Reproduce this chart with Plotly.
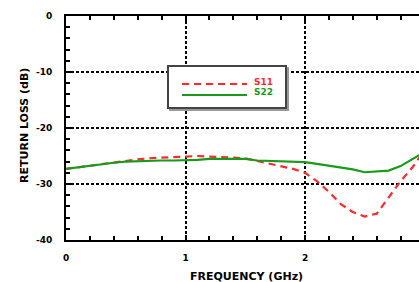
import plotly.graph_objects as go

freq = [0, 0.1, 0.2, 0.3, 0.4, 0.5, 0.6, 0.7, 0.8, 0.9, 1.0, 1.1, 1.2, 1.3, 1.4, 1.5,
        1.6, 1.7, 1.8, 1.9, 2.0, 2.1, 2.2, 2.3, 2.4, 2.5, 2.6, 2.7, 2.8, 2.9, 3.0]
s11 = [-27.3, -27.0, -26.8, -26.5, -26.2, -25.9, -25.6, -25.4, -25.3, -25.3, -25.1,
       -25.0, -25.1, -25.2, -25.3, -25.4, -25.9, -26.4, -26.8, -27.3, -28.0, -29.5,
       -31.4, -33.6, -35.0, -35.8, -35.3, -32.5, -29.5, -27.0, -24.0]
s22 = [-27.3, -27.0, -26.8, -26.5, -26.2, -26.0, -25.9, -25.8, -25.8, -25.8, -25.8,
       -25.7, -25.5, -25.5, -25.5, -25.5, -25.8, -25.9, -26.0, -26.1, -26.1, -26.4,
       -26.7, -27.0, -27.4, -27.9, -27.8, -27.6, -26.8, -25.5, -24.3]
series_names = ["S11", "S22"]
series_colors = ["#ff2a2a", "#1a9a1a"]
x_ticks = [0, 1, 2, 3]
x_ticktext = ["0", "1", "2", "3"]
y_ticks = [0, -10, -20, -30, -40]
y_ticktext = ["0", "-10", "-20", "-30", "-40"]
x_title = "FREQUENCY (GHz)"
y_title = "RETURN LOSS (dB)"

W, H = 419, 282
L, R, T, B = 66, 0, 16, 42
pw, ph = W - L - R, H - T - B

def px(x):
    return (x - L) / pw

def py(y):
    return (H - B - y) / ph

dash_s11 = "7px,5px"

fig = go.Figure()
fig.add_trace(go.Scatter(x=freq, y=s11, mode="lines", name=series_names[0],
                         line=dict(color=series_colors[0], width=2.2, dash=dash_s11)))
fig.add_trace(go.Scatter(x=freq, y=s22, mode="lines", name=series_names[1],
                         line=dict(color=series_colors[1], width=2.2)))

fam = "DejaVu Sans, Liberation Sans, Arial, sans-serif"
font = dict(family=fam, size=9, color="black", weight="bold")
tfont = dict(family=fam, size=11, color="black", weight="bold")

fig.update_layout(
    width=W, height=H,
    margin=dict(l=L, r=R, t=T, b=B, pad=0, autoexpand=False),
    paper_bgcolor="white", plot_bgcolor="white",
    showlegend=False,
    font=font,
    xaxis=dict(
        range=[0, (W - L) / 119.5], showline=True, linecolor="black", linewidth=2,
        mirror="ticks", ticks="inside", ticklen=5, tickcolor="black", tickwidth=1.5,
        tickvals=x_ticks, ticktext=x_ticktext, tickfont=font, ticklabelstandoff=8,
        showgrid=True, gridcolor="black", gridwidth=1.5, griddash="3px,2px",
        minor=dict(dtick=0.2, tick0=0, ticks="inside", ticklen=4, tickcolor="black", tickwidth=1.5, showgrid=False),
        zeroline=False, automargin=False,
    ),
    yaxis=dict(
        range=[-40, 0], showline=True, linecolor="black", linewidth=2,
        ticks="inside", ticklen=5, tickcolor="black", tickwidth=1.5,
        tickvals=y_ticks, ticktext=y_ticktext, tickfont=font, ticklabelstandoff=10,
        showgrid=True, gridcolor="black", gridwidth=1.5, griddash="3px,2px",
        minor=dict(dtick=2, tick0=0, ticks="inside", ticklen=4, tickcolor="black", tickwidth=1.5, showgrid=False),
        zeroline=False, automargin=False,
    ),
)

# axis titles
fig.add_annotation(xref="paper", yref="paper", x=px(246), y=py(276), text=x_title,
                   showarrow=False, xanchor="center", yanchor="middle", font=tfont)
fig.add_annotation(xref="paper", yref="paper", x=px(24), y=py(126), text=y_title,
                   showarrow=False, xanchor="center", yanchor="middle", textangle=-90, font=tfont)

# legend box (drawn manually)
fig.add_shape(type="rect", xref="paper", yref="paper",
              x0=px(170), x1=px(288), y0=py(110), y1=py(68),
              line=dict(color="#999999", width=2), fillcolor="white")
fig.add_shape(type="rect", xref="paper", yref="paper",
              x0=px(168), x1=px(286), y0=py(108), y1=py(66),
              line=dict(color="#444444", width=2), fillcolor="white")
for nm, col, dash, yy in zip(series_names, series_colors, [dash_s11, "solid"], [84, 95]):
    fig.add_shape(type="line", xref="paper", yref="paper",
                  x0=px(182), x1=px(247), y0=py(yy), y1=py(yy),
                  line=dict(color=col, width=2.2, dash=dash))
    fig.add_annotation(xref="paper", yref="paper", x=px(252), y=py(yy - 2.5),
                       text=nm, showarrow=False, xanchor="left", yanchor="middle",
                       font=dict(family=fam, size=9, color=col, weight="bold"))

fig.write_html("out.html", config={"displayModeBar": False},
               post_script="document.body.style.margin='0';document.body.style.overflow='hidden';")
